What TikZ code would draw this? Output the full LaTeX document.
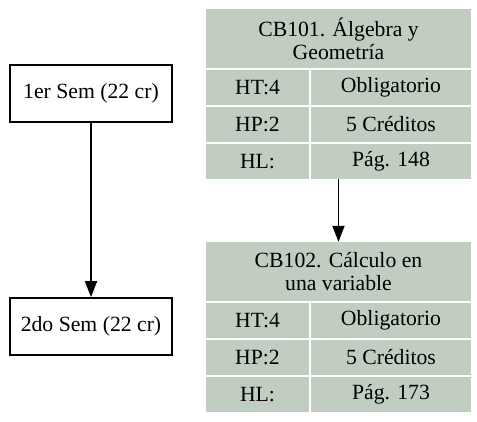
\documentclass[tikz,border=0pt]{standalone}
\usepackage{fontspec}
\setmainfont{Liberation Serif}
\usetikzlibrary{arrows.meta}
\definecolor{honeydew3}{RGB}{193,205,193}
\tikzset{
	sem/.style={draw, line width=1.8pt, minimum width=162pt, minimum height=57pt, inner sep=0pt},
	cell/.style={fill=honeydew3, inner sep=0pt, minimum height=35pt},
	tbl/.style={inner sep=0pt, minimum width=265pt, minimum height=170pt},
	arr/.style={line width=1.8pt, -{Triangle[length=16pt,width=12pt]}}
}

\begin{document}
\begin{tikzpicture}[x=1pt, y=-1pt, font=\fontsize{21.7}{23}\selectfont]
\useasboundingbox (0,0) rectangle (477,422);
% semestres
\node[sem] (sem1) at (91,93.5) {1er Sem (22 cr)};
\node[sem] (sem2) at (91,326.5) {2do Sem (22 cr)};
\draw[arr] (sem1) -- (sem2);
% cursos
\foreach \t/\dy/\titulo/\pag in {cb101/0/{CB101. Álgebra y\\Geometría}/148, cb102/233/{CB102. Cálculo en\\una variable}/173}{
	\node[tbl] (\t) at (338.5,94+\dy) {};
	\node[cell, minimum width=265pt, minimum height=59pt, align=center] (\t-hd) at (338.5,38.5+\dy) {\titulo};
	\foreach \r/\izq/\der in {0/HT:4/Obligatorio, 1/HP:2/5 Créditos, 2/HL:/Pág. \pag}{
		\node[cell, minimum width=103pt] (\t-l\r) at (257.5,87.5+\r*37+\dy) {\izq};
		\node[cell, minimum width=160pt] (\t-r\r) at (391,87.5+\r*37+\dy) {\der};
	}
}
\draw[arr] (cb101) -- (cb102);
\end{tikzpicture}
\end{document}
